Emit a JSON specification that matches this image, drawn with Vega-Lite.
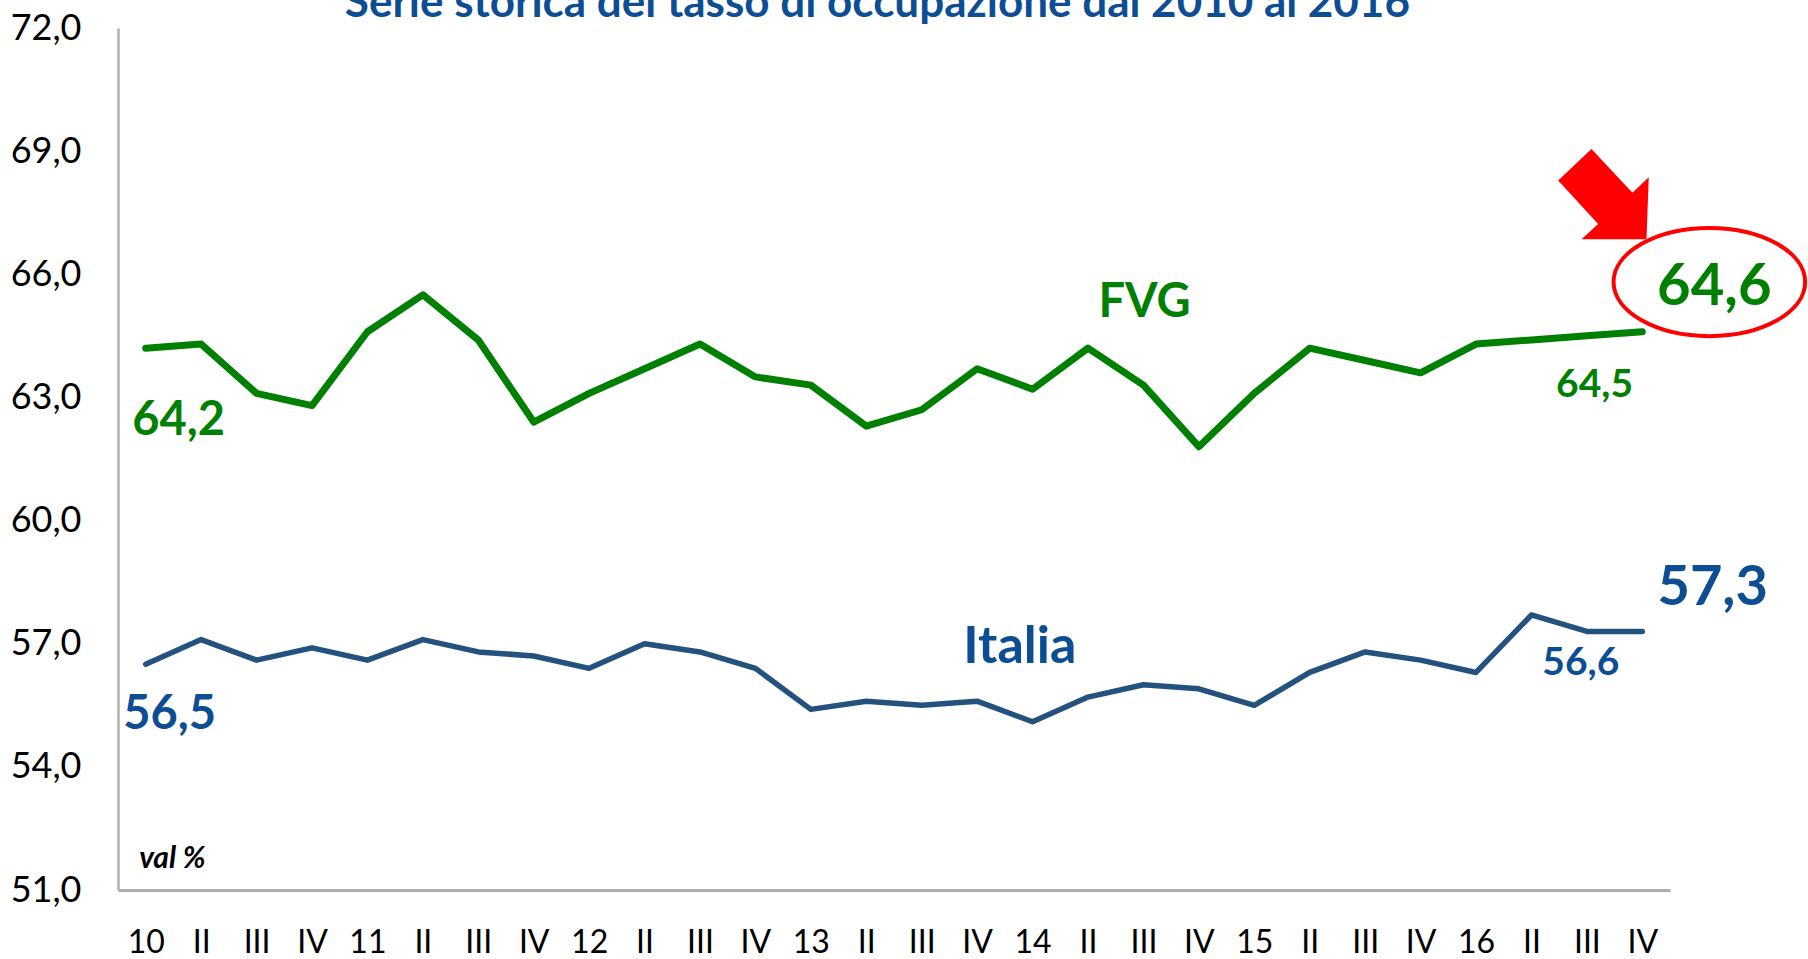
{
  "$schema": "https://vega.github.io/schema/vega-lite/v6.json",
  "autosize": {"type": "none"},
  "width": 1552,
  "height": 862,
  "padding": {"left": 118, "top": 28, "right": 138, "bottom": 69},
  "background": "white",
  "config": {
    "view": {"stroke": null},
    "font": "Lato"
  },
  "datasets": {
    "series": [
      {"i": 0, "q": "10", "serie": "FVG", "v": 64.2},
      {"i": 1, "q": "II", "serie": "FVG", "v": 64.3},
      {"i": 2, "q": "III", "serie": "FVG", "v": 63.1},
      {"i": 3, "q": "IV", "serie": "FVG", "v": 62.8},
      {"i": 4, "q": "11", "serie": "FVG", "v": 64.6},
      {"i": 5, "q": "II", "serie": "FVG", "v": 65.5},
      {"i": 6, "q": "III", "serie": "FVG", "v": 64.4},
      {"i": 7, "q": "IV", "serie": "FVG", "v": 62.4},
      {"i": 8, "q": "12", "serie": "FVG", "v": 63.1},
      {"i": 9, "q": "II", "serie": "FVG", "v": 63.7},
      {"i": 10, "q": "III", "serie": "FVG", "v": 64.3},
      {"i": 11, "q": "IV", "serie": "FVG", "v": 63.5},
      {"i": 12, "q": "13", "serie": "FVG", "v": 63.3},
      {"i": 13, "q": "II", "serie": "FVG", "v": 62.3},
      {"i": 14, "q": "III", "serie": "FVG", "v": 62.7},
      {"i": 15, "q": "IV", "serie": "FVG", "v": 63.7},
      {"i": 16, "q": "14", "serie": "FVG", "v": 63.2},
      {"i": 17, "q": "II", "serie": "FVG", "v": 64.2},
      {"i": 18, "q": "III", "serie": "FVG", "v": 63.3},
      {"i": 19, "q": "IV", "serie": "FVG", "v": 61.8},
      {"i": 20, "q": "15", "serie": "FVG", "v": 63.1},
      {"i": 21, "q": "II", "serie": "FVG", "v": 64.2},
      {"i": 22, "q": "III", "serie": "FVG", "v": 63.9},
      {"i": 23, "q": "IV", "serie": "FVG", "v": 63.6},
      {"i": 24, "q": "16", "serie": "FVG", "v": 64.3},
      {"i": 25, "q": "II", "serie": "FVG", "v": 64.4},
      {"i": 26, "q": "III", "serie": "FVG", "v": 64.5},
      {"i": 27, "q": "IV", "serie": "FVG", "v": 64.6},
      {"i": 0, "q": "10", "serie": "Italia", "v": 56.5},
      {"i": 1, "q": "II", "serie": "Italia", "v": 57.1},
      {"i": 2, "q": "III", "serie": "Italia", "v": 56.6},
      {"i": 3, "q": "IV", "serie": "Italia", "v": 56.9},
      {"i": 4, "q": "11", "serie": "Italia", "v": 56.6},
      {"i": 5, "q": "II", "serie": "Italia", "v": 57.1},
      {"i": 6, "q": "III", "serie": "Italia", "v": 56.8},
      {"i": 7, "q": "IV", "serie": "Italia", "v": 56.7},
      {"i": 8, "q": "12", "serie": "Italia", "v": 56.4},
      {"i": 9, "q": "II", "serie": "Italia", "v": 57.0},
      {"i": 10, "q": "III", "serie": "Italia", "v": 56.8},
      {"i": 11, "q": "IV", "serie": "Italia", "v": 56.4},
      {"i": 12, "q": "13", "serie": "Italia", "v": 55.4},
      {"i": 13, "q": "II", "serie": "Italia", "v": 55.6},
      {"i": 14, "q": "III", "serie": "Italia", "v": 55.5},
      {"i": 15, "q": "IV", "serie": "Italia", "v": 55.6},
      {"i": 16, "q": "14", "serie": "Italia", "v": 55.1},
      {"i": 17, "q": "II", "serie": "Italia", "v": 55.7},
      {"i": 18, "q": "III", "serie": "Italia", "v": 56.0},
      {"i": 19, "q": "IV", "serie": "Italia", "v": 55.9},
      {"i": 20, "q": "15", "serie": "Italia", "v": 55.5},
      {"i": 21, "q": "II", "serie": "Italia", "v": 56.3},
      {"i": 22, "q": "III", "serie": "Italia", "v": 56.8},
      {"i": 23, "q": "IV", "serie": "Italia", "v": 56.6},
      {"i": 24, "q": "16", "serie": "Italia", "v": 56.3},
      {"i": 25, "q": "II", "serie": "Italia", "v": 57.7},
      {"i": 26, "q": "III", "serie": "Italia", "v": 57.3},
      {"i": 27, "q": "IV", "serie": "Italia", "v": 57.3}
    ],
    "labels": [
      {"kind": "title", "text": "Serie storica del tasso di occupazione dal 2010 al 2016", "i": 13.2, "v": 72.275},
      {"kind": "fvg_start", "text": "64,2", "i": 0.595, "v": 62.08},
      {"kind": "it_start", "text": "56,5", "i": 0.43, "v": 54.93},
      {"kind": "fvg_name", "text": "FVG", "i": 18.02, "v": 64.97},
      {"kind": "it_name", "text": "Italia", "i": 15.77, "v": 56.54},
      {"kind": "fvg_end", "text": "64,6", "i": 28.3, "v": 65.25},
      {"kind": "it_end", "text": "57,3", "i": 28.27, "v": 57.94},
      {"kind": "fvg_prev", "text": "64,5", "i": 26.14, "v": 63.0},
      {"kind": "it_prev", "text": "56,6", "i": 25.89, "v": 56.24},
      {"kind": "unit", "text": "val %", "i": 0.48, "v": 51.54}
    ],
    "marks": [
      {"kind": "arrow", "i": 26.3, "v": 67.95},
      {"kind": "ellipse", "i": 28.21, "v": 65.81}
    ]
  },
  "encoding": {
    "x": {
      "field": "i",
      "type": "quantitative",
      "scale": {"domain": [-0.5, 27.5], "nice": false, "zero": false},
      "axis": {
        "title": null,
        "values": [0,1,2,3,4,5,6,7,8,9,10,11,12,13,14,15,16,17,18,19,20,21,22,23,24,25,26,27],
        "labelExpr": "['10','II','III','IV','11','II','III','IV','12','II','III','IV','13','II','III','IV','14','II','III','IV','15','II','III','IV','16','II','III','IV'][datum.value]",
        "grid": false,
        "ticks": false,
        "tickSize": 0,
        "labelFlush": false,
        "labelOverlap": false,
        "labelFont": "Lato",
        "labelFontSize": 32,
        "labelColor": "#000000",
        "labelPadding": 37,
        "domainColor": "#ADADAD",
        "domainWidth": 3
      }
    },
    "y": {
      "field": "v",
      "type": "quantitative",
      "scale": {"domain": [51, 72], "nice": false, "zero": false},
      "axis": {
        "title": null,
        "values": [51, 54, 57, 60, 63, 66, 69, 72],
        "labelExpr": "replace(format(datum.value, '.1f'), '.', ',')",
        "grid": false,
        "ticks": false,
        "tickSize": 0,
        "labelOverlap": false,
        "labelFont": "Lato",
        "labelFontSize": 36,
        "labelColor": "#000000",
        "labelPadding": 37,
        "domainColor": "#B0B0B0",
        "domainWidth": 2.5
      }
    }
  },
  "layer": [
    {
      "data": {"name": "series"},
      "mark": {"type": "line", "strokeCap": "round", "strokeJoin": "round"},
      "encoding": {
        "color": {
          "field": "serie",
          "type": "nominal",
          "scale": {"domain": ["FVG", "Italia"], "range": ["#008000", "#24527E"]},
          "legend": null
        },
        "strokeWidth": {
          "field": "serie",
          "type": "nominal",
          "scale": {"domain": ["FVG", "Italia"], "range": [7, 5.5]},
          "legend": null
        }
      }
    },
    {
      "data": {"name": "labels"},
      "transform": [{"filter": "datum.kind === 'title'"}],
      "mark": {"type": "text", "font": "Lato", "fontWeight": "bold", "fontSize": 44, "color": "#0D4D94", "baseline": "alphabetic", "align": "center", "clip": false},
      "encoding": {"text": {"field": "text"}}
    },
    {
      "data": {"name": "labels"},
      "transform": [{"filter": "datum.kind === 'fvg_start'"}],
      "mark": {"type": "text", "font": "Lato", "fontWeight": "bold", "fontSize": 47, "color": "#008000", "baseline": "alphabetic", "align": "center"},
      "encoding": {"text": {"field": "text"}}
    },
    {
      "data": {"name": "labels"},
      "transform": [{"filter": "datum.kind === 'it_start'"}],
      "mark": {"type": "text", "font": "Lato", "fontWeight": "bold", "fontSize": 47, "color": "#0D4D94", "baseline": "alphabetic", "align": "center"},
      "encoding": {"text": {"field": "text"}}
    },
    {
      "data": {"name": "labels"},
      "transform": [{"filter": "datum.kind === 'fvg_name'"}],
      "mark": {"type": "text", "font": "Lato", "fontWeight": "bold", "fontSize": 47, "color": "#008000", "baseline": "alphabetic", "align": "center"},
      "encoding": {"text": {"field": "text"}}
    },
    {
      "data": {"name": "labels"},
      "transform": [{"filter": "datum.kind === 'it_name'"}],
      "mark": {"type": "text", "font": "Lato", "fontWeight": "bold", "fontSize": 52, "color": "#0D4D94", "baseline": "alphabetic", "align": "center"},
      "encoding": {"text": {"field": "text"}}
    },
    {
      "data": {"name": "labels"},
      "transform": [{"filter": "datum.kind === 'fvg_end'"}],
      "mark": {"type": "text", "font": "Lato", "fontWeight": "bold", "fontSize": 58, "color": "#008000", "baseline": "alphabetic", "align": "center"},
      "encoding": {"text": {"field": "text"}}
    },
    {
      "data": {"name": "labels"},
      "transform": [{"filter": "datum.kind === 'it_end'"}],
      "mark": {"type": "text", "font": "Lato", "fontWeight": "bold", "fontSize": 56, "color": "#0D4D94", "baseline": "alphabetic", "align": "center"},
      "encoding": {"text": {"field": "text"}}
    },
    {
      "data": {"name": "labels"},
      "transform": [{"filter": "datum.kind === 'fvg_prev'"}],
      "mark": {"type": "text", "font": "Lato", "fontWeight": "bold", "fontSize": 39, "color": "#008000", "baseline": "alphabetic", "align": "center"},
      "encoding": {"text": {"field": "text"}}
    },
    {
      "data": {"name": "labels"},
      "transform": [{"filter": "datum.kind === 'it_prev'"}],
      "mark": {"type": "text", "font": "Lato", "fontWeight": "bold", "fontSize": 39, "color": "#0D4D94", "baseline": "alphabetic", "align": "center"},
      "encoding": {"text": {"field": "text"}}
    },
    {
      "data": {"name": "labels"},
      "transform": [{"filter": "datum.kind === 'unit'"}],
      "mark": {"type": "text", "font": "Lato", "fontWeight": "bold", "fontStyle": "italic", "fontSize": 30, "color": "#000000", "baseline": "alphabetic", "align": "center"},
      "encoding": {"text": {"field": "text"}}
    },
    {
      "data": {"name": "marks"},
      "transform": [{"filter": "datum.kind === 'arrow'"}],
      "mark": {
        "type": "point",
        "shape": "M-0.264,-0.993L0.637,-0.035L0.995,-0.374L0.945,0.989L-0.483,0.989L-0.117,0.653L-0.996,-0.301Z",
        "size": 8281,
        "filled": true,
        "color": "#FF0000",
        "opacity": 1,
        "strokeWidth": 0
      }
    },
    {
      "data": {"name": "marks"},
      "transform": [{"filter": "datum.kind === 'ellipse'"}],
      "mark": {
        "type": "point",
        "shape": "M-1,0A1,0.565,0,1,0,1,0A1,0.565,0,1,0,-1,0Z",
        "size": 36710,
        "filled": false,
        "stroke": "#FF0000",
        "strokeWidth": 4,
        "opacity": 1
      }
    }
  ]
}
